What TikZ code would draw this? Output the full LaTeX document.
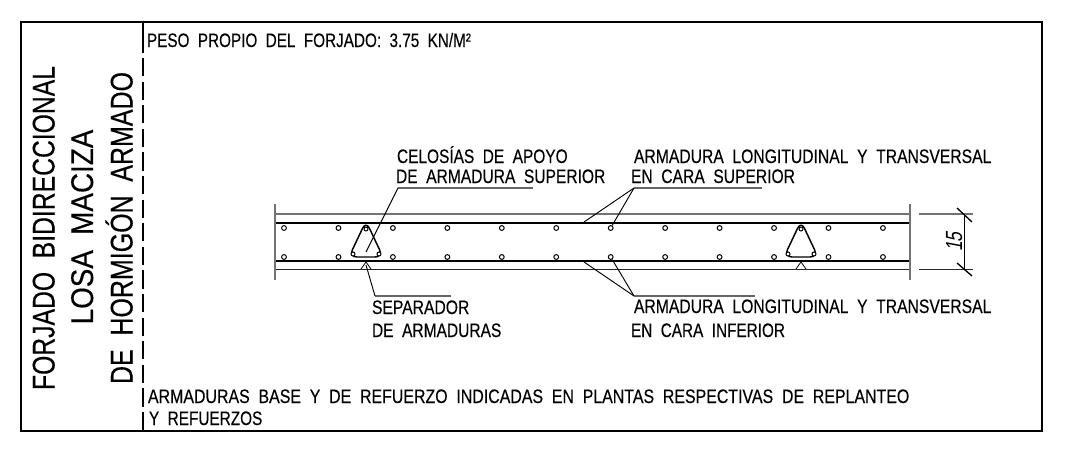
\documentclass[tikz,border=0pt]{standalone}
\usepackage{graphicx}
\usepackage{fontspec}
\setmainfont{Liberation Sans}[FakeBold=0.25]
\newfontfamily\dimfont{Liberation Sans}[FakeSlant=0.25]
\newcommand\fitw[2]{\resizebox{#1}{\height}{\spaceskip=.55em\relax #2}}
\tikzset{
  x=0.75pt,y=-0.75pt,
  lab/.style={anchor=base west,inner sep=0pt,outer sep=0pt,font=\fontsize{14.6pt}{16pt}\selectfont},
  ttl/.style={anchor=base,inner sep=0pt,outer sep=0pt,rotate=90,font=\fontsize{23.5pt}{26pt}\selectfont},
  frame/.style={line width=1.5pt,line join=miter},
  thin line/.style={line width=0.75pt,black!85},
  grey line/.style={line width=0.9pt,black!55},
  main bar/.style={line width=1.8pt,black},
  leader/.style={line width=0.7pt,black},
  under/.style={line width=0.8pt,black!60},
  rebar/.style={circle,draw,line width=0.75pt,inner sep=0pt,minimum size=3.6pt,fill=white},
  truss/.style={line width=1.1pt,rounded corners=6pt,black},
  sep/.style={line width=0.6pt,black}
}
\begin{document}
\begin{tikzpicture}
\useasboundingbox (0,0) rectangle (1083,450);
\fill[white] (0,0) rectangle (1083,450);
% frame
\draw[frame] (21,22) rectangle (1042,431);
\draw[line width=1pt] (143,22) -- (143,53);
\draw[line width=1pt,dash pattern=on 13.7pt off 4pt] (143,58) -- (143,431);
% title
\node[ttl] (t1) at (54.5,228) {\fitw{243pt}{FORJADO BIDIRECCIONAL}};
\node[ttl] (t2) at (93,227) {\fitw{146pt}{LOSA MACIZA}};
\node[ttl] (t3) at (132.5,228) {\fitw{234pt}{DE HORMIGÓN ARMADO}};
% notes
\node[lab] (n1) at (147,47) {\fitw{243pt}{PESO PROPIO DEL FORJADO: 3.75 KN/M²}};
\node[lab] (n2) at (148,403) {\fitw{571pt}{ARMADURAS BASE Y DE REFUERZO INDICADAS EN PLANTAS RESPECTIVAS DE REPLANTEO}};
\node[lab] (n3) at (149,425) {\fitw{85pt}{Y REFUERZOS}};
\node[lab] (c1) at (397,163) {\fitw{128pt}{CELOSÍAS DE APOYO}};
\node[lab] (c2) at (396,183) {\fitw{157pt}{DE ARMADURA SUPERIOR}};
\node[lab] (a1) at (634,163) {\fitw{268pt}{ARMADURA LONGITUDINAL Y TRANSVERSAL}};
\node[lab] (a2) at (631,183) {\fitw{123pt}{EN CARA SUPERIOR}};
\node[lab] (b1) at (634,313) {\fitw{268pt}{ARMADURA LONGITUDINAL Y TRANSVERSAL}};
\node[lab] (b2) at (631,337) {\fitw{115.5pt}{EN CARA INFERIOR}};
\node[lab] (s1) at (372,314) {\fitw{73pt}{SEPARADOR}};
\node[lab] (s2) at (372,337) {\fitw{97pt}{DE ARMADURAS}};
% slab
\draw[grey line] (275,214) -- (910,214);
\draw[main bar] (275,223) -- (910,223);
\draw[main bar] (275,261) -- (910,261);
\draw[thin line] (275,269) -- (910,269);
\draw[grey line] (275,204) -- (275,280);
\draw[grey line] (910,204) -- (910,280);
% rebars
\foreach \k in {0,...,11}{
  \node[rebar] (u\k) at ({284+\k*54.45},228) {};
  \node[rebar] (d\k) at ({284+\k*54.45},257) {};
}
% trusses and spacers
\foreach \cx/\nm in {366/p,801/q}{
  \draw[truss] ({\cx},221) -- ({\cx+17},257) -- ({\cx-17},257) -- cycle;
  \node[rebar,minimum size=3pt] (\nm a) at ({\cx},229) {};
  \node[rebar,minimum size=3pt] (\nm b) at ({\cx-13},254) {};
  \node[rebar,minimum size=3pt] (\nm c) at ({\cx+13},254) {};
  \draw[sep] ({\cx-5},269) -- ({\cx},262) -- ({\cx+5},269);
}
% leaders
\coordinate (lc) at (398,188);
\coordinate (lcE) at (533,188);
\coordinate (lt) at (634,188);
\coordinate (ltE) at (762,188);
\coordinate (lb) at (634,296);
\coordinate (lbE) at (755,296);
\coordinate (ls) at (375,296);
\coordinate (lsE) at (451,296);
\coordinate (tip1) at (366,252);
\coordinate (tip2) at (366,265);
\coordinate (t584) at (584,222);
\coordinate (b584) at (584,262);
\draw[under] (lc) -- (lcE);
\draw[under] (lt) -- (ltE);
\draw[under] (lb) -- (lbE);
\draw[under] (ls) -- (lsE);
\draw[leader] (lc) -- (tip1);
\draw[leader] (ls) -- (tip2);
\draw[leader] (lt) -- (t584);
\draw[leader] (lt) -- (u6);
\draw[leader] (lb) -- (b584);
\draw[leader] (lb) -- (d6);
% dimension
\coordinate (e1a) at (919,214);
\coordinate (e1b) at (973,214);
\coordinate (e2a) at (919,269);
\coordinate (e2b) at (973,269);
\coordinate (da) at (964,214);
\coordinate (db) at (964,269);
\draw[grey line] (e1a) -- (e1b);
\draw[thin line] (e2a) -- (e2b);
\draw[thin line,black] (da) -- (db);
\draw[line width=1pt] (957,208) -- (972,222);
\draw[line width=1pt] (957,263) -- (972,276);
\node[anchor=base,inner sep=0pt,rotate=90,font=\dimfont\fontsize{17.5pt}{19pt}\selectfont] (dim) at (962,242) {\fitw{14.5pt}{15}};
\end{tikzpicture}
\end{document}
